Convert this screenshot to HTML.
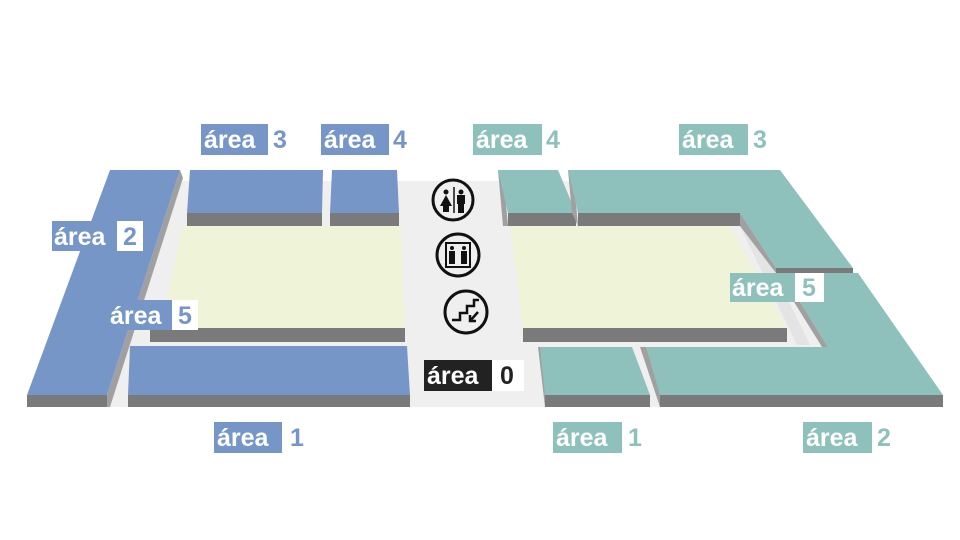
<!DOCTYPE html>
<html><head><meta charset="utf-8"><style>
html,body{margin:0;padding:0;background:#fff;width:960px;height:540px;overflow:hidden}
svg text{font-family:"Liberation Sans","DejaVu Sans",sans-serif;font-weight:bold;font-size:25px}
</style></head><body>
<svg width="960" height="540" viewBox="0 0 960 540" xmlns="http://www.w3.org/2000/svg">
<polygon points="180,181 498,181 548,407 107,407" fill="#efefef"/>
<polygon points="498,181 760,181 822,347 640,347 660,407 548,407" fill="#efefef"/>
<polygon points="183,226 401,226 405,328 160,328" fill="#eff3d8"/>
<rect x="150" y="328" width="255" height="14" fill="#7a7a7a"/>
<polygon points="510,226 730,226 787,328 523,328" fill="#eff3d8"/>
<rect x="523" y="328" width="264" height="14" fill="#7a7a7a"/>
<polygon points="740,226 752,226 810,345 797,345" fill="#e4e4e4"/>
<polygon points="180,170 183,178 110,407 107,407 107,395" fill="#a0a0a0"/>
<polygon points="110,170 180,170 107,395 27,395" fill="#7796c8"/>
<rect x="27" y="395" width="80" height="12" fill="#7a7a7a"/>
<polygon points="190,170 323,170 322,213 187,213" fill="#7796c8"/>
<rect x="187" y="213" width="135" height="13" fill="#7a7a7a"/>
<polygon points="332,170 397,170 399,213 330,213" fill="#7796c8"/>
<rect x="330" y="213" width="69" height="13" fill="#7a7a7a"/>
<polygon points="130,346 407,346 410,395 128,395" fill="#7796c8"/>
<rect x="128" y="395" width="282" height="12" fill="#7a7a7a"/>
<polygon points="498,170 503,170 508,226 503,226" fill="#a0a0a0"/>
<polygon points="498,170 558,170 576,213 508,213" fill="#8fc1bc"/>
<rect x="508" y="213" width="68" height="13" fill="#7a7a7a"/>
<polygon points="568,170 573,170 578,226 572,213" fill="#a0a0a0"/>
<polygon points="740,213 776,268 776,273 740,226" fill="#a0a0a0"/>
<polygon points="568,170 780,170 853,268 776,268 740,213 578,213" fill="#8fc1bc"/>
<rect x="578" y="213" width="162" height="13" fill="#7a7a7a"/>
<rect x="776" y="268" width="77" height="5" fill="#7a7a7a"/>
<polygon points="776,273 782,273 828,347 822,347" fill="#a0a0a0"/>
<polygon points="640,347 646,347 666,407 660,407" fill="#a0a0a0"/>
<polygon points="782,273 858,273 943,395 660,395 646,347 828,347" fill="#8fc1bc"/>
<rect x="660" y="395" width="283" height="12" fill="#7a7a7a"/>
<polygon points="538,347 542,347 550,407 545,407" fill="#a0a0a0"/>
<polygon points="540,347 632,347 650,395 545,395" fill="#8fc1bc"/>
<rect x="545" y="395" width="105" height="12" fill="#7a7a7a"/>
<g fill="none" stroke="#111" stroke-width="3">
<circle cx="453" cy="200" r="20"/>
<circle cx="458" cy="255" r="21"/>
<circle cx="466" cy="312" r="21"/>
<rect x="446" y="243" width="24" height="24" stroke-width="2"/>
<line x1="454" y1="187" x2="454" y2="213" stroke-width="1.5"/>
<polyline points="452,320 460,320 460,313 467,313 467,306 474,306 474,300 479,300" stroke-width="2.5"/>
<line x1="478" y1="312" x2="470" y2="321" stroke-width="2.5"/>
<polyline points="470,315 470,321 476,321" stroke-width="2.5"/>
</g>
<g fill="#111">
<circle cx="446" cy="192" r="2.5"/><polygon points="446,195 440,206 443,206 443,212 449,212 449,206 452,206"/>
<circle cx="461" cy="192" r="2.5"/><rect x="457" y="195" width="8" height="9"/><rect x="458" y="204" width="6" height="9"/>
<circle cx="452" cy="248" r="2"/><rect x="449" y="251" width="6" height="13"/>
<circle cx="464" cy="248" r="2"/><rect x="461" y="251" width="6" height="13"/>
</g>
<g>
<rect x="201" y="124" width="67" height="31" fill="#7796c8"/><text x="204" y="148" fill="#fff">área</text><text x="273" y="148" fill="#7796c8">3</text>
<rect x="321" y="124" width="68" height="31" fill="#7796c8"/><text x="324" y="148" fill="#fff">área</text><text x="393" y="148" fill="#7796c8">4</text>
<rect x="52" y="221" width="65" height="30" fill="#7796c8"/><rect x="117" y="221" width="26" height="30" fill="#fff"/><text x="54" y="245" fill="#fff">área</text><text x="123" y="245" fill="#7796c8">2</text>
<rect x="110" y="300" width="62" height="30" fill="#7796c8"/><rect x="172" y="300" width="26" height="30" fill="#fff"/><text x="110" y="324" fill="#fff">área</text><text x="178" y="324" fill="#7796c8">5</text>
<rect x="214" y="422" width="68" height="31" fill="#7796c8"/><text x="217" y="446" fill="#fff">área</text><text x="290" y="446" fill="#7796c8">1</text>
<rect x="473" y="124" width="69" height="31" fill="#8fc1bc"/><text x="476" y="148" fill="#fff">área</text><text x="546" y="148" fill="#8fc1bc">4</text>
<rect x="679" y="124" width="69" height="31" fill="#8fc1bc"/><text x="682" y="148" fill="#fff">área</text><text x="753" y="148" fill="#8fc1bc">3</text>
<rect x="730" y="273" width="65" height="29" fill="#8fc1bc"/><rect x="795" y="273" width="29" height="29" fill="#fff"/><text x="732" y="296" fill="#fff">área</text><text x="802" y="296" fill="#8fc1bc">5</text>
<rect x="424" y="360" width="68" height="31" fill="#222"/><rect x="492" y="360" width="32" height="31" fill="#fff"/><text x="427" y="384" fill="#fff">área</text><text x="500" y="384" fill="#222">0</text>
<rect x="553" y="422" width="69" height="31" fill="#8fc1bc"/><text x="556" y="446" fill="#fff">área</text><text x="628" y="446" fill="#8fc1bc">1</text>
<rect x="803" y="422" width="69" height="31" fill="#8fc1bc"/><text x="806" y="446" fill="#fff">área</text><text x="877" y="446" fill="#8fc1bc">2</text>
</g>
</svg>
</body></html>
